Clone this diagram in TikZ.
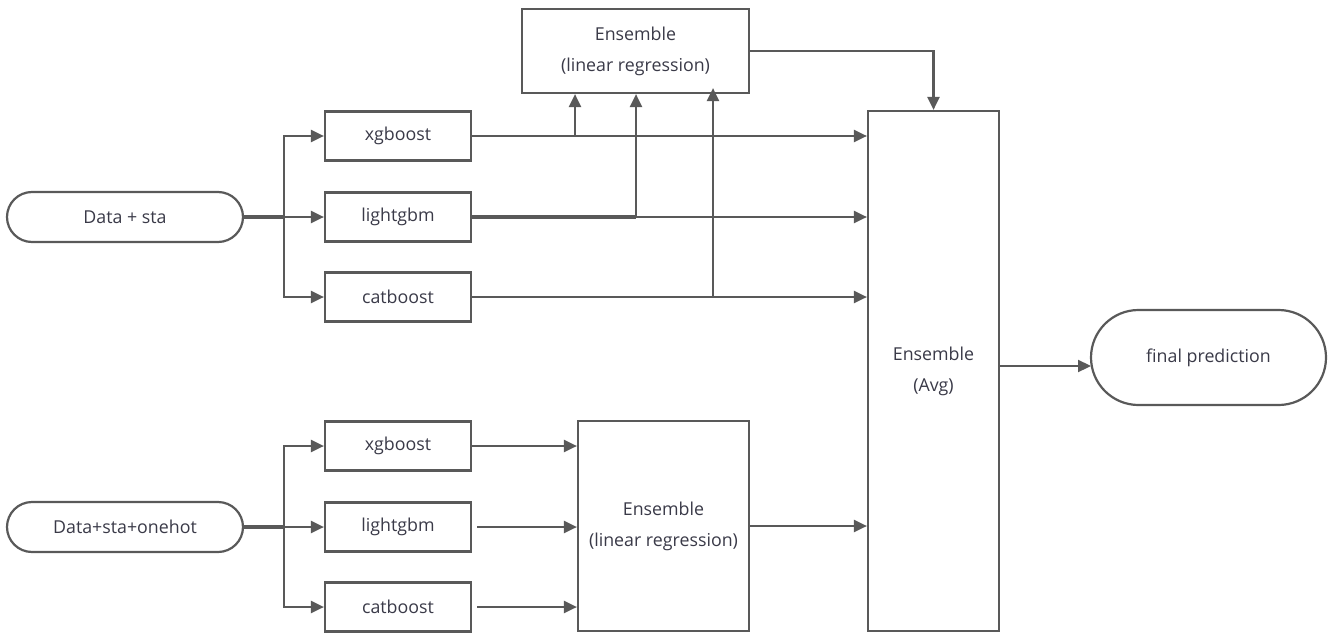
\documentclass[tikz,border=0pt]{standalone}
\usepackage{fontspec}
\setmainfont{Open Sans}
\usetikzlibrary{shapes.misc,arrows.meta}
\definecolor{lnc}{HTML}{595959}
\definecolor{txc}{HTML}{3A3A48}
\begin{document}
\begin{tikzpicture}[x=1pt,y=-1pt,
  box/.style={draw=lnc,line width=2.2pt,fill=white,inner sep=0pt,
    font=\fontsize{17.8}{21}\selectfont,text=txc,align=center},
  pill/.style={box,rounded rectangle},
  conn/.style={draw=lnc,line width=2.2pt},
  arr/.style={conn,-{Triangle[length=13pt,width=12pt]}}]
\useasboundingbox[fill=white] (0,0) rectangle (1330,634);
% inputs
\node[pill,minimum width=236pt,minimum height=50pt] (d1) at (125,217) {Data + sta};
\node[pill,minimum width=236pt,minimum height=50pt] (d2) at (125,527) {Data+sta+onehot};
% models
\node[box,minimum width=146pt,minimum height=49pt] (x1) at (398,136) {xgboost};
\node[box,minimum width=146pt,minimum height=49pt] (l1) at (398,217) {lightgbm};
\node[box,minimum width=146pt,minimum height=49pt] (c1) at (398,297) {catboost};
\node[box,minimum width=146pt,minimum height=49pt] (x2) at (398,446) {xgboost};
\node[box,minimum width=146pt,minimum height=49pt] (l2) at (398,527) {lightgbm};
\node[box,minimum width=146pt,minimum height=49pt] (c2) at (398,607) {catboost};
% ensembles
\node[box,minimum width=227pt,minimum height=84pt] (e1) at (635.5,51) {Ensemble\\[10pt](linear regression)};
\node[box,minimum width=171pt,minimum height=210pt] (e2) at (663.5,526) {Ensemble\\[10pt](linear regression)};
\node[box,minimum width=131pt,minimum height=520pt] (avg) at (933.5,371) {Ensemble\\[10pt](Avg)};
\node[pill,minimum width=235pt,minimum height=95pt] (fin) at (1208.5,357.5) {final prediction};
% branch points
\coordinate (b1) at (284,217);
\coordinate (b2) at (284,527);
\coordinate (j1) at (575,136);
\coordinate (j2) at (636,217);
\coordinate (j3) at (713,297);
\coordinate (fo) at (1091,366);
% input fan-out
\draw[conn,line width=3.2pt] (d1.east) -- (b1);
\draw[arr] (b1) |- (x1.west);
\draw[arr] (b1) -- (l1.west);
\draw[arr] (b1) |- (c1.west);
\draw[conn,line width=3.2pt] (d2.east) -- (b2);
\draw[arr] (b2) |- (x2.west);
\draw[arr] (b2) -- (l2.west);
\draw[arr] (b2) |- (c2.west);
% top models to Avg
\draw[arr] (x1.east) -- (x1.east -| avg.west);
\draw[arr] (l1.east) -- (l1.east -| avg.west);
\draw[arr] (c1.east) -- (c1.east -| avg.west);
% top models to top ensemble
\draw[arr] (j1) -- (j1 |- e1.south);
\draw[conn,line width=3.2pt] (l1.east) -- (j2);
\draw[arr] (j2) -- (j2 |- e1.south);
\draw[arr] (j3) -- ([yshift=6pt]j3 |- e1.south);
% top ensemble to Avg
\draw[arr] (e1.east) -| (avg.north);
% bottom models to bottom ensemble
\draw[arr] (x2.east) -- (x2.east -| e2.west);
\draw[arr] ([xshift=5pt]l2.east) -- (l2.east -| e2.west);
\draw[arr] ([xshift=5pt]c2.east) -- (c2.east -| e2.west);
\draw[arr] (e2.east) -- (e2.east -| avg.west);
% final
\draw[arr] (avg.east |- fo) -- (fo);
\end{tikzpicture}
\end{document}
